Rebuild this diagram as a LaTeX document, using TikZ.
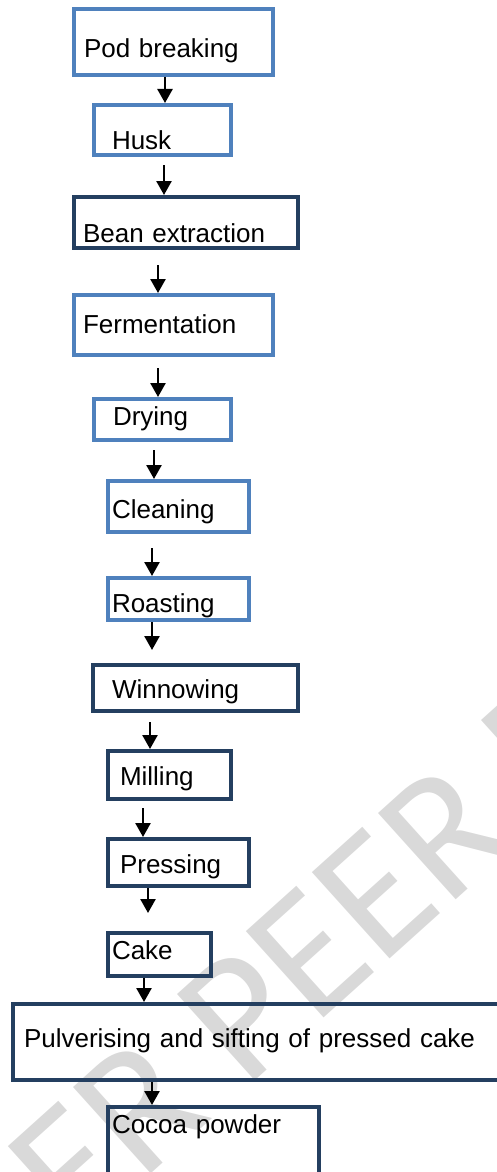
\documentclass[tikz,border=0pt]{standalone}
\usepackage{fontspec}
\setmainfont{Liberation Sans}
\newfontfamily\stampfont{Carlito}
\usepackage{tikz}
\usetikzlibrary{arrows.meta}
\definecolor{lightblue}{HTML}{4F81BD}
\definecolor{darknavy}{HTML}{243F60}
\definecolor{stampgray}{HTML}{D9D9D9}

\begin{document}
\begin{tikzpicture}[
		stage/.style={draw, line width=0.08cm, anchor=north west, align=left,
			inner ysep=0pt, font=\fontsize{14.8}{17}\selectfont},
		lightstage/.style={stage, draw=lightblue},
		darkstage/.style={stage, draw=darknavy},
		flow/.style={line width=0.05cm, -{Triangle[width=0.3cm,length=0.28cm]}}
	]
		\useasboundingbox (0,0) rectangle (9.94,-23.44);
		\clip (0,0) rectangle (9.94,-23.44);

		% watermark
		\node[text=stampgray, anchor=base, rotate=42, font=\stampfont\fontsize{103}{110}\selectfont] (stamp) at (8.04,-18.96) {UNDER PEER REVIEW};

		\node[lightstage, inner xsep=0.20cm, text width=3.58cm, text height=0.98cm, text depth=0.34cm] (pod) at (1.44,-0.14) {Pod breaking};
		\node[lightstage, inner xsep=0.36cm, text width=2.02cm, text height=0.90cm, text depth=0.10cm] (husk) at (1.84,-2.06) {Husk};
		\node[darkstage, inner xsep=0.18cm, text width=4.12cm, text height=0.90cm, text depth=0.12cm] (bean) at (1.44,-3.90) {Bean extraction};
		\node[lightstage, inner xsep=0.18cm, text width=3.62cm, text height=0.76cm, text depth=0.44cm] (ferment) at (1.44,-5.86) {Fermentation};
		\node[lightstage, inner xsep=0.38cm, text width=1.98cm, text height=0.52cm, text depth=0.30cm] (drying) at (1.84,-7.94) {Drying};
		\node[lightstage, inner xsep=0.08cm, text width=2.66cm, text height=0.74cm, text depth=0.28cm] (cleaning) at (2.12,-9.58) {Cleaning};
		\node[lightstage, inner xsep=0.08cm, text width=2.66cm, text height=0.68cm, text depth=0.16cm] (roasting) at (2.12,-11.52) {Roasting};
		\node[darkstage, inner xsep=0.38cm, text width=3.34cm, text height=0.66cm, text depth=0.26cm] (winnow) at (1.82,-13.26) {Winnowing};
		\node[darkstage, inner xsep=0.24cm, text width=1.98cm, text height=0.68cm, text depth=0.28cm] (milling) at (2.12,-14.98) {Milling};
		\node[darkstage, inner xsep=0.24cm, text width=2.34cm, text height=0.68cm, text depth=0.26cm] (pressing) at (2.12,-16.74) {Pressing};
		\node[darkstage, inner xsep=0.08cm, text width=1.90cm, text height=0.52cm, text depth=0.34cm] (cake) at (2.12,-18.62) {Cake};
		\node[darkstage, inner xsep=0.22cm, text width=9.40cm, text height=0.86cm, text depth=0.66cm] (pulverise) at (0.22,-20.04) {Pulverising and sifting of pressed cake};
		\node[darkstage, inner xsep=0.08cm, text width=4.06cm, text height=0.52cm, text depth=1.04cm] (cocoa) at (2.12,-22.10) {Cocoa powder};

		\draw[flow] (pod.south -| 3.30,0) -- (husk.north -| 3.30,0);
		\draw[flow, shorten <=0.16cm] (husk.south -| 3.28,0) -- (bean.north -| 3.28,0);
		\draw[flow, shorten <=0.30cm] (bean.south -| 3.16,0) -- (ferment.north -| 3.16,0);
		\draw[flow, shorten <=0.22cm] (ferment.south -| 3.16,0) -- (drying.north -| 3.16,0);
		\draw[flow, shorten <=0.16cm] (drying.south -| 3.08,0) -- (cleaning.north -| 3.08,0);
		\draw[flow, shorten <=0.28cm] (cleaning.south -| 3.04,0) -- (roasting.north -| 3.04,0);
		\draw[flow, shorten >=0.26cm] (roasting.south -| 3.04,0) -- (winnow.north -| 3.04,0);
		\draw[flow, shorten <=0.18cm] (winnow.south -| 3.00,0) -- (milling.north -| 3.00,0);
		\draw[flow, shorten <=0.14cm] (milling.south -| 2.86,0) -- (pressing.north -| 2.86,0);
		\draw[flow, shorten >=0.36cm] (pressing.south -| 2.96,0) -- (cake.north -| 2.96,0);
		\draw[flow] (cake.south -| 2.88,0) -- (pulverise.north -| 2.88,0);
		\draw[flow] (pulverise.south -| 3.04,0) -- (cocoa.north -| 3.04,0);

	\end{tikzpicture}
\end{document}
